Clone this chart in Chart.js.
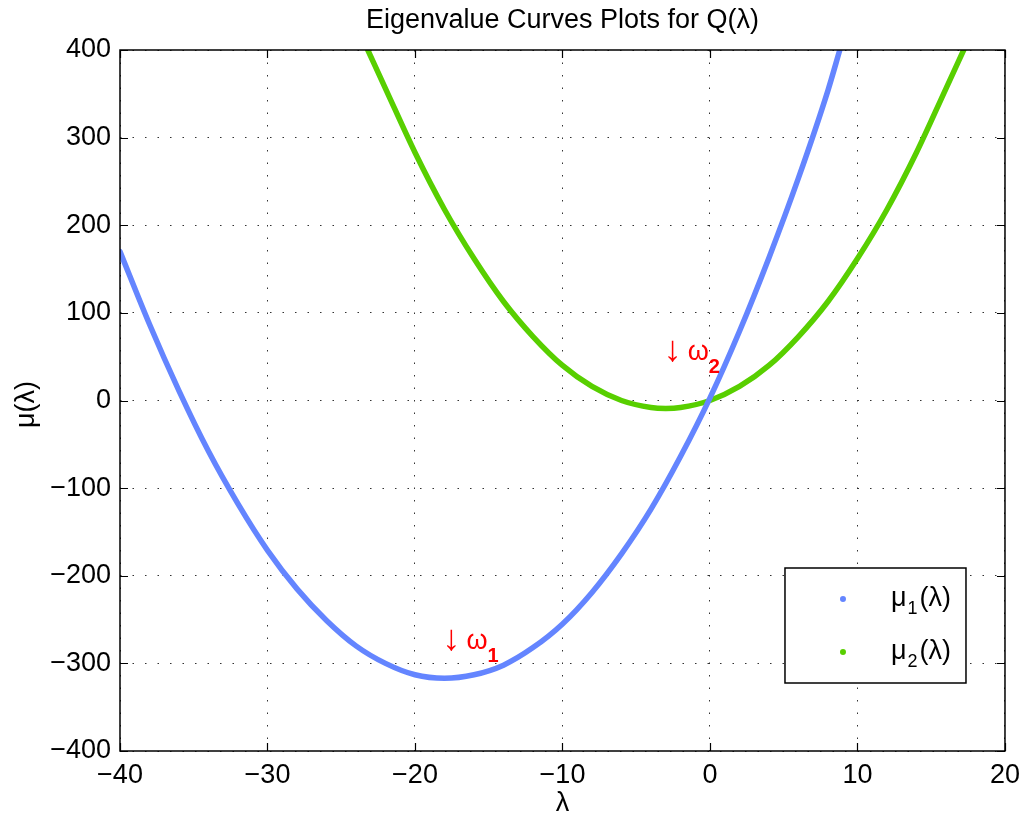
<!DOCTYPE html>
<html>
<head>
<meta charset="utf-8">
<script src="https://cdn.jsdelivr.net/npm/chart.js@4/dist/chart.umd.min.js"></script>
<style>
  body { margin: 0; background: #fff; }
  #wrap { width: 1028px; height: 821px; position: relative; }
</style>
</head>
<body>
<div id="wrap"><canvas id="mychart"></canvas></div>
<script>
// 固有値曲線 μ1(λ)
let lam1 = [-40, -38, -36, -34, -32, -30, -28, -26, -24, -22, -20, -18, -16, -14, -12, -10, -8, -6, -4, -2, 0, 2, 4, 6, 8, 8.8];
let mu1 = [170, 87, 11, -58, -118, -171, -215, -251, -280, -300, -313, -317, -313, -302, -282, -255, -219, -175, -124, -64, 3, 79, 163, 254, 354, 400];

// 固有値曲線 μ2(λ)
let lam2 = [-23.2, -22, -20, -18, -16, -14, -12, -10, -8, -6, -4, -3, -2, 0, 2, 4, 6, 8, 10, 12, 14, 16, 17.2];
let mu2 = [400, 356, 283, 218, 162, 113, 73, 40, 16, 0, -8, -9, -8, 0, 16, 40, 73, 113, 162, 218, 283, 356, 400];

// 目盛り
let xTicks = [-40, -30, -20, -10, 0, 10, 20];
let yTicks = [-400, -300, -200, -100, 0, 100, 200, 300, 400];

// 凡例・注記の添字
let subs = ['1', '2'];
let colors = ['#6485ff', '#58cf00'];

const fontName = '"Liberation Sans", Arial, Helvetica, sans-serif';

function toPoints(xs, ys) {
  return xs.map((x, i) => ({ x: x, y: ys[i] }));
}

function fmt(v) {
  return v < 0 ? '\u2212' + Math.abs(v) : String(v);
}

// 添字つき文字列を左から順に描く [文字, サイズ, 縦ずれ, 太字, 後ろの間隔]
function drawParts(ctx, x, y, parts) {
  parts.forEach(p => {
    ctx.font = (p[3] ? 'bold ' : '') + p[1] + 'px ' + fontName;
    ctx.fillText(p[0], x, y + p[2]);
    x += ctx.measureText(p[0]).width + (p[4] || 0);
  });
}

// 枠・目盛り・タイトル・凡例・注記
const decor = {
  id: 'decor',
  afterDraw(chart) {
    let ctx = chart.ctx;
    let a = chart.chartArea;
    let sx = chart.scales.x;
    let sy = chart.scales.y;
    ctx.save();

    // 内向きの目盛り
    ctx.strokeStyle = '#000';
    ctx.lineWidth = 1.2;
    ctx.beginPath();
    xTicks.forEach(v => {
      let px = Math.round(sx.getPixelForValue(v)) + 0.5;
      ctx.moveTo(px, a.bottom); ctx.lineTo(px, a.bottom - 8);
      ctx.moveTo(px, a.top); ctx.lineTo(px, a.top + 8);
    });
    yTicks.forEach(v => {
      let py = Math.round(sy.getPixelForValue(v)) + 0.5;
      ctx.moveTo(a.left, py); ctx.lineTo(a.left + 8, py);
      ctx.moveTo(a.right, py); ctx.lineTo(a.right - 8, py);
    });
    ctx.stroke();

    // 外枠
    ctx.lineWidth = 1.5;
    ctx.strokeRect(a.left, a.top, a.right - a.left, a.bottom - a.top);

    // タイトルと軸ラベル
    ctx.fillStyle = '#000';
    ctx.textAlign = 'center';
    ctx.textBaseline = 'middle';
    ctx.font = '27px ' + fontName;
    let cx = (a.left + a.right) / 2;
    ctx.fillText('Eigenvalue Curves Plots for Q(\u03bb)', cx, 21);
    ctx.fillText('\u03bb', cx, a.bottom + 53);
    ctx.save();
    ctx.translate(a.left - 93, (a.top + a.bottom) / 2 + 4);
    ctx.rotate(-Math.PI / 2);
    ctx.fillText('\u03bc(\u03bb)', 0, 0);
    ctx.restore();

    // 極小点の注記 ↓ω
    ctx.textAlign = 'left';
    ctx.fillStyle = '#ff0000';
    let series = [[lam1, mu1, -37], [lam2, mu2, -56]];
    series.forEach((s, k) => {
      let i = s[1].indexOf(Math.min(...s[1]));
      let px = sx.getPixelForValue(s[0][i]);
      let py = sy.getPixelForValue(s[1][i]) + s[2];
      drawParts(ctx, px - 2, py, [['\u2193', 36, -1, false, 6], ['\u03c9', 27, 0], [subs[k], 20, 15, true]]);
    });

    // 凡例
    let lw = 181, lh = 115;
    let lx = a.right - 39 - lw;
    let ly = a.bottom - 68 - lh;
    ctx.fillStyle = '#fff';
    ctx.fillRect(lx, ly, lw, lh);
    ctx.strokeStyle = '#000';
    ctx.lineWidth = 1.5;
    ctx.strokeRect(lx, ly, lw, lh);
    subs.forEach((s, k) => {
      let ry = ly + 31 + k * 53;
      ctx.fillStyle = colors[k];
      ctx.beginPath();
      ctx.arc(lx + 58, ry, 3, 0, Math.PI * 2);
      ctx.fill();
      ctx.fillStyle = '#000';
      drawParts(ctx, lx + 106, ry, [['\u03bc', 27, 0, false, 1], [s, 18, 10, false, 2], ['(\u03bb)', 27, 0]]);
    });

    ctx.restore();
  }
};

let ctx = document.getElementById('mychart');
let myChart = new Chart(ctx, {
  type: 'line',
  data: {
    datasets: [{
      label: 'mu1',
      data: toPoints(lam1, mu1),
      borderColor: colors[0],
    }, {
      label: 'mu2',
      data: toPoints(lam2, mu2),
      borderColor: colors[1],
    }],
  },
  options: {
    responsive: true,
    maintainAspectRatio: false,
    animation: false,
    layout: { padding: { top: 50, right: 20, left: 0, bottom: 0 } },
    elements: {
      line: { borderWidth: 5.5, cubicInterpolationMode: 'monotone', borderCapStyle: 'round', fill: false },
      point: { radius: 0, hoverRadius: 0 },
    },
    plugins: {
      legend: { display: false },
      title: { display: false },
      tooltip: { enabled: false },
    },
    scales: {
      x: {
        type: 'linear',
        min: -40,
        max: 20,
        afterFit: s => { s.height = 70; },
        afterBuildTicks: s => { s.ticks = xTicks.map(v => ({ value: v })); },
        ticks: {
          autoSkip: false,
          maxRotation: 0,
          padding: 8,
          color: '#000',
          font: { family: fontName, size: 27 },
          callback: v => fmt(v),
        },
        grid: { color: '#333', lineWidth: 1, drawTicks: false },
        border: { display: false, dash: [1.5, 11] },
      },
      y: {
        type: 'linear',
        min: -400,
        max: 400,
        afterFit: s => { s.width = 120; },
        afterBuildTicks: s => { s.ticks = yTicks.map(v => ({ value: v })); },
        ticks: {
          autoSkip: false,
          padding: 9,
          color: '#000',
          font: { family: fontName, size: 27 },
          callback: v => fmt(v),
        },
        grid: { color: '#333', lineWidth: 1, drawTicks: false },
        border: { display: false, dash: [1.5, 11] },
      },
    },
  },
  plugins: [decor],
});
</script>
</body>
</html>
